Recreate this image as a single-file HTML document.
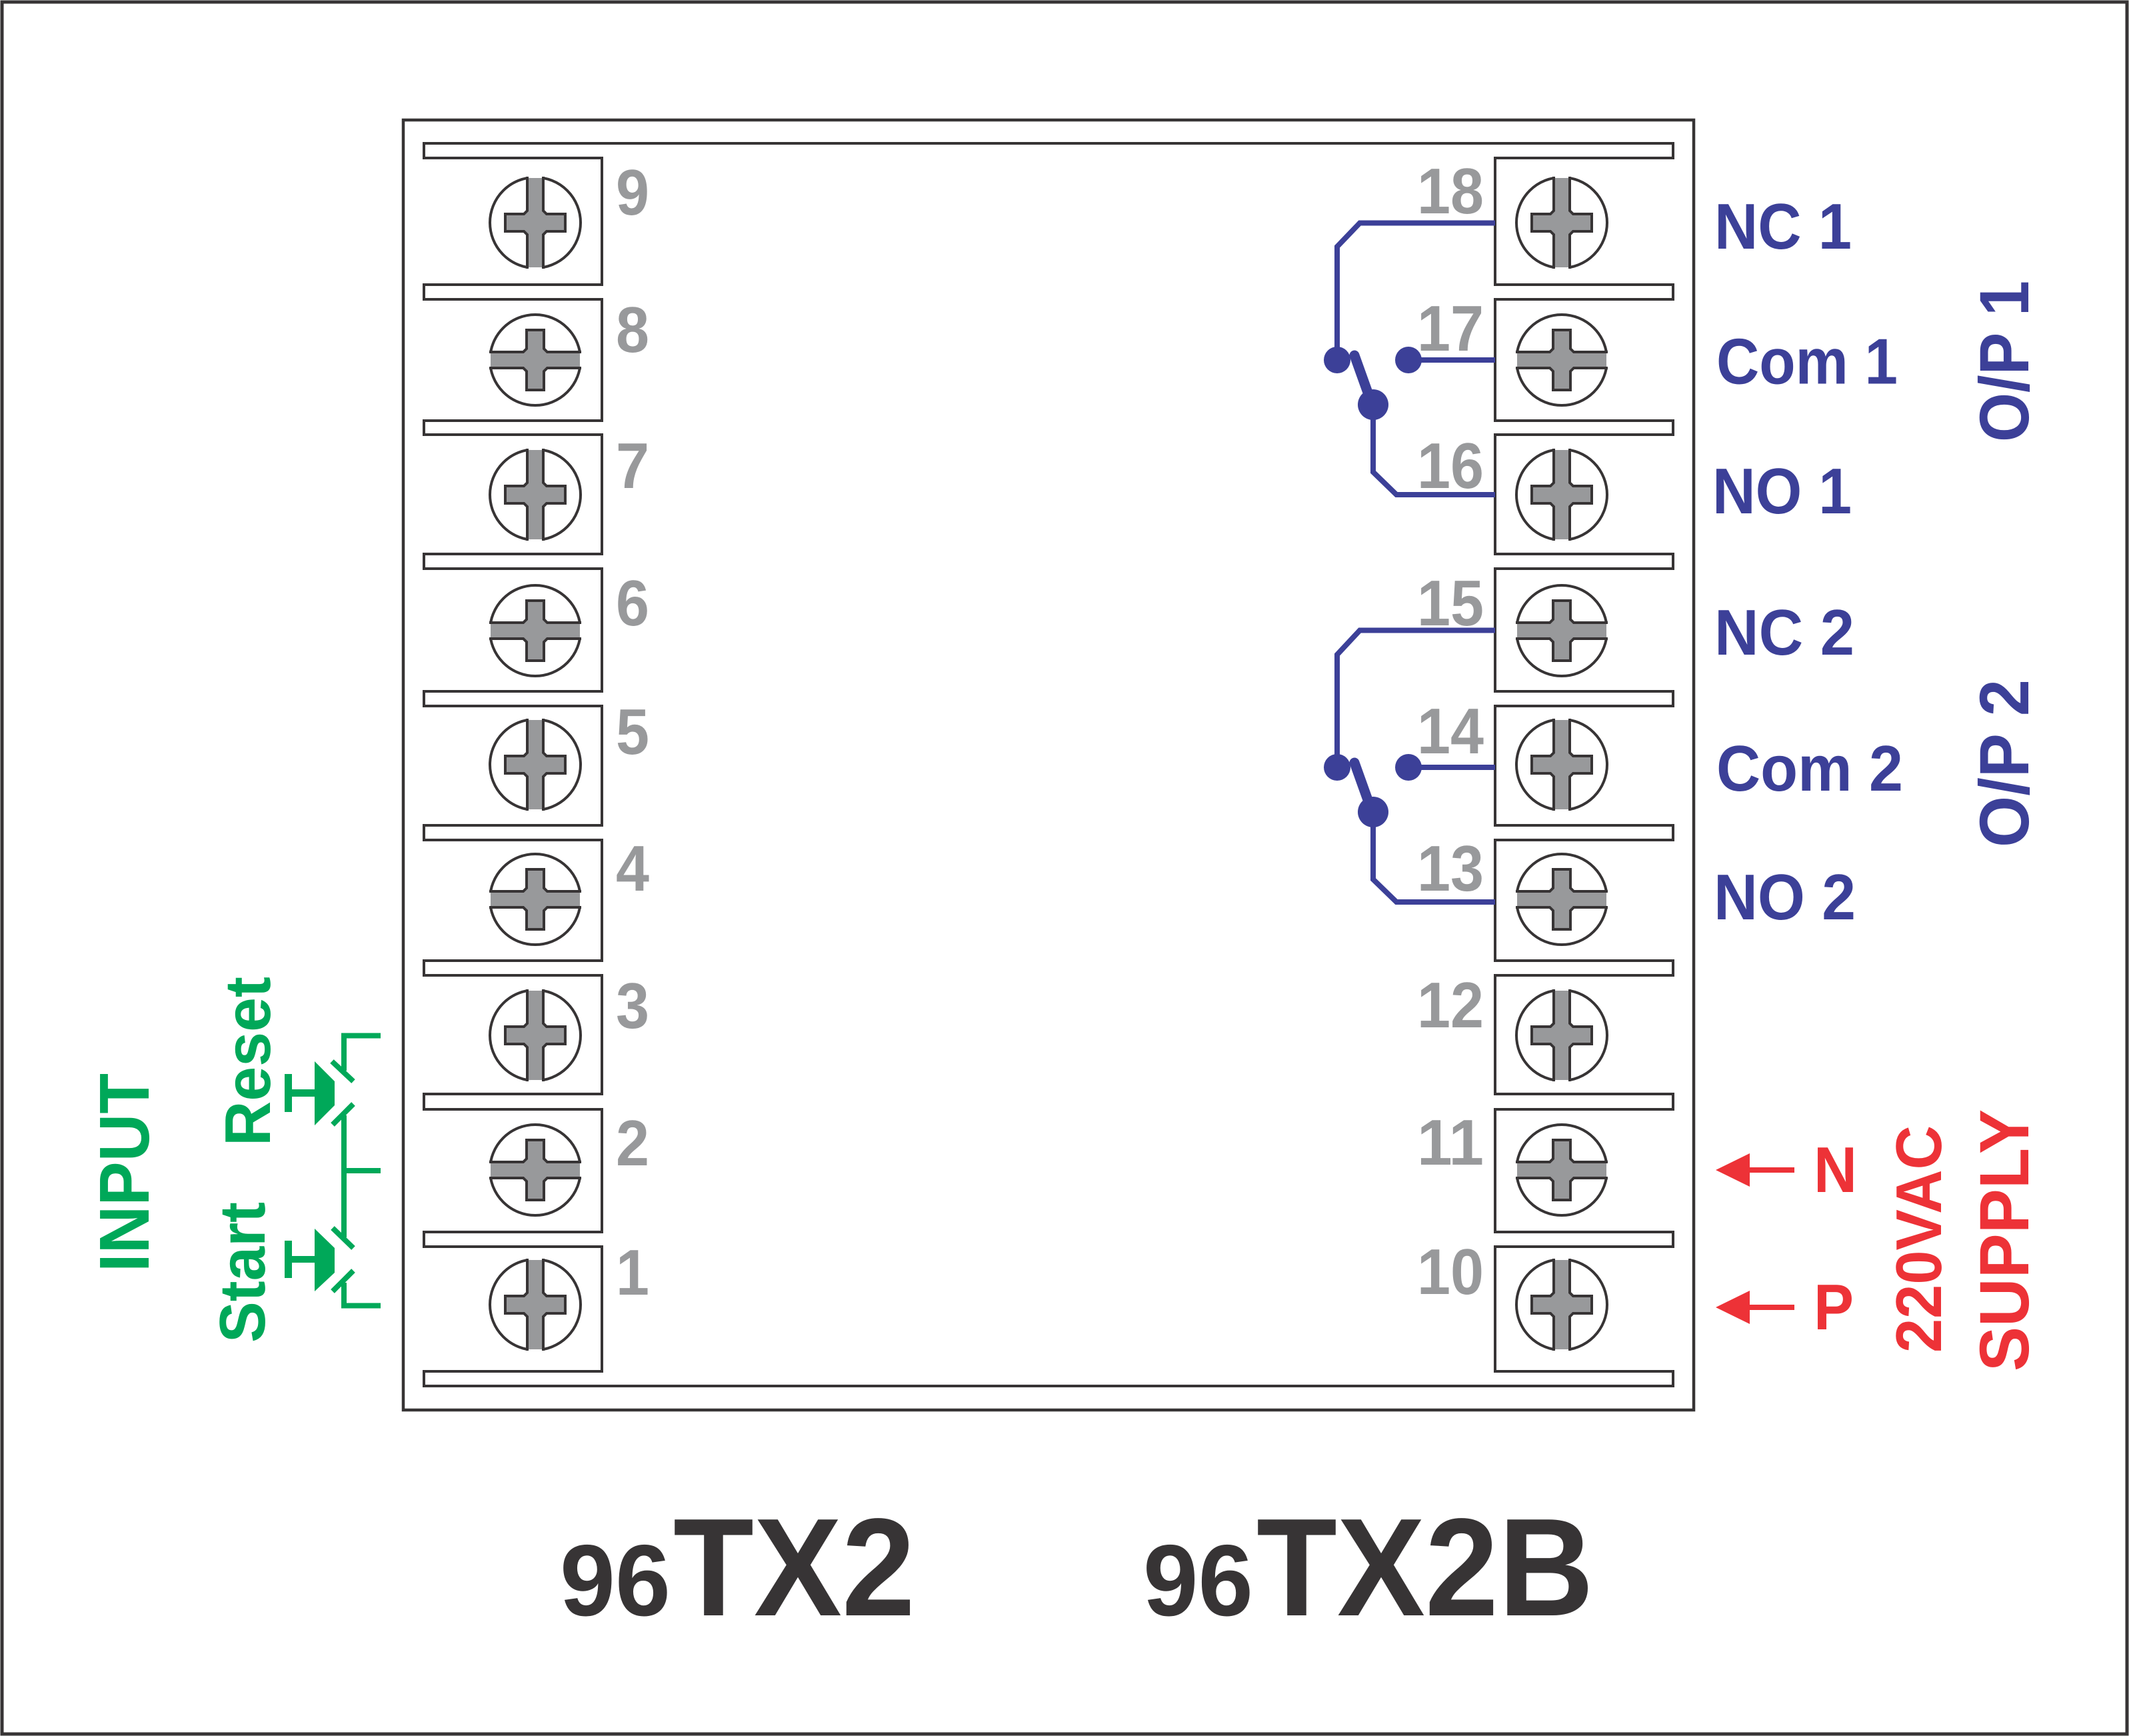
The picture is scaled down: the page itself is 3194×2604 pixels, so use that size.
<!DOCTYPE html>
<html>
<head>
<meta charset="utf-8">
<title>96TX2 96TX2B wiring diagram</title>
<style>
html,body{margin:0;padding:0;background:#fff}
svg{display:block}
text{font-family:"Liberation Sans",Arial,sans-serif;font-weight:bold;text-rendering:geometricPrecision}
.n{font-size:97px;fill:#98999b}
.b{font-size:97px;fill:#3c4098}
.g{fill:#00a859}
.r{fill:#ed3237}
.t{fill:#373435}
</style>
</head>
<body>
<svg xmlns="http://www.w3.org/2000/svg" width="3194" height="2604" viewBox="0 0 3194 2604">
<defs>
<g id="v">
  <circle cx="0" cy="0" r="68" fill="#fff" stroke="#373435" stroke-width="4"/>
  <rect x="-11" y="-72" width="22" height="144" fill="#fff"/>
  <path d="M-11 -67H11V-17L15 -13H45V13H15L11 17V67H-11V17L-15 13H-45V-13H-15L-11 -17Z" fill="#98999b"/>
  <path d="M-12 -69V-18L-17 -13H-45V13H-17L-12 18V69M12 -69V-18L17 -13H45V13H17L12 18V69" fill="none" stroke="#373435" stroke-width="4"/>
</g>
<g id="h"><use href="#v" transform="rotate(90)"/></g>
</defs>

<rect x="0" y="0" width="3194" height="2604" fill="#fff"/>
<rect x="3" y="3" width="3188" height="2598" fill="none" stroke="#373435" stroke-width="5"/>
<rect x="605" y="180" width="1936" height="1935" fill="none" stroke="#373435" stroke-width="4.5"/>

<path d="M636 215H2510V237H2243V427H2510V449H2243V631H2510V652H2243V831H2510V853H2243V1037H2510V1059H2243V1238H2510V1260H2243V1441H2510V1463H2243V1641H2510V1664H2243V1848H2510V1870H2243V2057H2510V2079H636V2057H903V1870H636V1848H903V1664H636V1641H903V1463H636V1441H903V1260H636V1238H903V1059H636V1037H903V853H636V831H903V652H636V631H903V449H636V427H903V237H636Z" fill="none" stroke="#373435" stroke-width="4"/>

<use href="#v" x="803" y="334"/>
<use href="#h" transform="translate(803 540)"/>
<use href="#v" x="803" y="742"/>
<use href="#h" transform="translate(803 946)"/>
<use href="#v" x="803" y="1147"/>
<use href="#h" transform="translate(803 1349)"/>
<use href="#v" x="803" y="1553"/>
<use href="#h" transform="translate(803 1755)"/>
<use href="#v" x="803" y="1957"/>

<use href="#v" x="2343" y="334"/>
<use href="#h" transform="translate(2343 540)"/>
<use href="#v" x="2343" y="742"/>
<use href="#h" transform="translate(2343 946)"/>
<use href="#v" x="2343" y="1147"/>
<use href="#h" transform="translate(2343 1349)"/>
<use href="#v" x="2343" y="1553"/>
<use href="#h" transform="translate(2343 1755)"/>
<use href="#v" x="2343" y="1957"/>

<!-- terminal numbers -->
<text class="n" x="924" y="322" textLength="50" lengthAdjust="spacingAndGlyphs">9</text>
<text class="n" x="924" y="528" textLength="50" lengthAdjust="spacingAndGlyphs">8</text>
<text class="n" x="924" y="732" textLength="50" lengthAdjust="spacingAndGlyphs">7</text>
<text class="n" x="924" y="938" textLength="50" lengthAdjust="spacingAndGlyphs">6</text>
<text class="n" x="924" y="1131" textLength="50" lengthAdjust="spacingAndGlyphs">5</text>
<text class="n" x="924" y="1336" textLength="50" lengthAdjust="spacingAndGlyphs">4</text>
<text class="n" x="924" y="1542" textLength="50" lengthAdjust="spacingAndGlyphs">3</text>
<text class="n" x="924" y="1748" textLength="50" lengthAdjust="spacingAndGlyphs">2</text>
<text class="n" x="924" y="1942" textLength="50" lengthAdjust="spacingAndGlyphs">1</text>

<text class="n" x="2126" y="320" textLength="100" lengthAdjust="spacingAndGlyphs">18</text>
<text class="n" x="2126" y="526" textLength="100" lengthAdjust="spacingAndGlyphs">17</text>
<text class="n" x="2126" y="732" textLength="100" lengthAdjust="spacingAndGlyphs">16</text>
<text class="n" x="2126" y="938" textLength="100" lengthAdjust="spacingAndGlyphs">15</text>
<text class="n" x="2126" y="1130" textLength="100" lengthAdjust="spacingAndGlyphs">14</text>
<text class="n" x="2126" y="1336" textLength="100" lengthAdjust="spacingAndGlyphs">13</text>
<text class="n" x="2126" y="1541" textLength="100" lengthAdjust="spacingAndGlyphs">12</text>
<text class="n" x="2126" y="1747" textLength="100" lengthAdjust="spacingAndGlyphs">11</text>
<text class="n" x="2126" y="1941" textLength="100" lengthAdjust="spacingAndGlyphs">10</text>

<!-- relay contacts -->
<g fill="none" stroke="#3c4098" stroke-width="8">
  <path d="M2243 334.5H2040L2006 370V540"/>
  <path d="M2243 540H2113"/>
  <path d="M2060 607V708L2095 742H2243"/>
  <path d="M2243 945.5H2040L2006 982V1151"/>
  <path d="M2243 1151H2113"/>
  <path d="M2060 1218V1319L2095 1353H2243"/>
</g>
<g fill="#3c4098">
  <circle cx="2006" cy="540" r="20"/>
  <circle cx="2113" cy="540" r="20"/>
  <circle cx="2060" cy="607" r="23"/>
  <circle cx="2006" cy="1151" r="20"/>
  <circle cx="2113" cy="1151" r="20"/>
  <circle cx="2060" cy="1218" r="23"/>
</g>
<path d="M2032 533L2056 600M2032 1144L2056 1211" fill="none" stroke="#3c4098" stroke-width="15" stroke-linecap="round"/>

<!-- blue labels -->
<text class="b" x="2572" y="373" textLength="206" lengthAdjust="spacingAndGlyphs">NC 1</text>
<text class="b" x="2575" y="575.5" textLength="272" lengthAdjust="spacingAndGlyphs">Com 1</text>
<text class="b" x="2569" y="770" textLength="209" lengthAdjust="spacingAndGlyphs">NO 1</text>
<text class="b" x="2572" y="982" textLength="210" lengthAdjust="spacingAndGlyphs">NC 2</text>
<text class="b" x="2575" y="1186" textLength="280" lengthAdjust="spacingAndGlyphs">Com 2</text>
<text class="b" x="2571" y="1379" textLength="213" lengthAdjust="spacingAndGlyphs">NO 2</text>
<text transform="translate(3043 663) rotate(-90)" font-size="105" fill="#3c4098" textLength="242" lengthAdjust="spacingAndGlyphs">O/P 1</text>
<text transform="translate(3043 1271) rotate(-90)" font-size="105" fill="#3c4098" textLength="252" lengthAdjust="spacingAndGlyphs">O/P 2</text>

<!-- green input -->
<text class="g" transform="translate(223 1908) rotate(-90)" font-size="106" textLength="298" lengthAdjust="spacingAndGlyphs">INPUT</text>
<text class="g" transform="translate(405 1719) rotate(-90)" font-size="97" textLength="254" lengthAdjust="spacingAndGlyphs">Reset</text>
<text class="g" transform="translate(397 2014) rotate(-90)" font-size="97" textLength="211" lengthAdjust="spacingAndGlyphs">Start</text>

<g fill="none" stroke="#00a859" stroke-width="8">
  <path d="M571 1553.5H516V1606"/>
  <path d="M498 1592L530 1622"/>
  <path d="M530 1656L499 1687"/>
  <path d="M516 1673V1856"/>
  <path d="M516 1756H571"/>
  <path d="M499 1842L530 1872"/>
  <path d="M530 1906L499 1937"/>
  <path d="M516 1924V1958.5H571"/>
</g>
<g fill="#00a859">
  <rect x="427" y="1611" width="11" height="57"/>
  <rect x="438" y="1634" width="34" height="11"/>
  <polygon points="472,1592 502,1622 502,1658 472,1688"/>
  <rect x="427" y="1861" width="11" height="56"/>
  <rect x="438" y="1884" width="34" height="10"/>
  <polygon points="472,1843 502,1872 502,1909 472,1937"/>
</g>

<!-- red supply -->
<g fill="#ed3237">
  <polygon points="2574,1755 2625,1730 2625,1780"/>
  <rect x="2625" y="1751" width="67" height="8"/>
  <polygon points="2574,1961 2625,1936 2625,1986"/>
  <rect x="2625" y="1957" width="67" height="8"/>
</g>
<text class="r" x="2721" y="1788" font-size="97" textLength="65" lengthAdjust="spacingAndGlyphs">N</text>
<text class="r" x="2721" y="1994" font-size="97" textLength="60" lengthAdjust="spacingAndGlyphs">P</text>
<text class="r" transform="translate(2912 2029) rotate(-90)" font-size="97" textLength="341" lengthAdjust="spacingAndGlyphs">220VAC</text>
<text class="r" transform="translate(3043 2057) rotate(-90)" font-size="105" textLength="393" lengthAdjust="spacingAndGlyphs">SUPPLY</text>

<!-- titles -->
<text class="t" x="840" y="2423" font-size="152" textLength="166" lengthAdjust="spacingAndGlyphs">96</text>
<text class="t" x="1010" y="2423" font-size="209" textLength="363" lengthAdjust="spacingAndGlyphs">TX2</text>
<text class="t" x="1715" y="2423" font-size="152" textLength="165" lengthAdjust="spacingAndGlyphs">96</text>
<text class="t" x="1885" y="2423" font-size="209" textLength="506" lengthAdjust="spacingAndGlyphs">TX2B</text>
</svg>
</body>
</html>
